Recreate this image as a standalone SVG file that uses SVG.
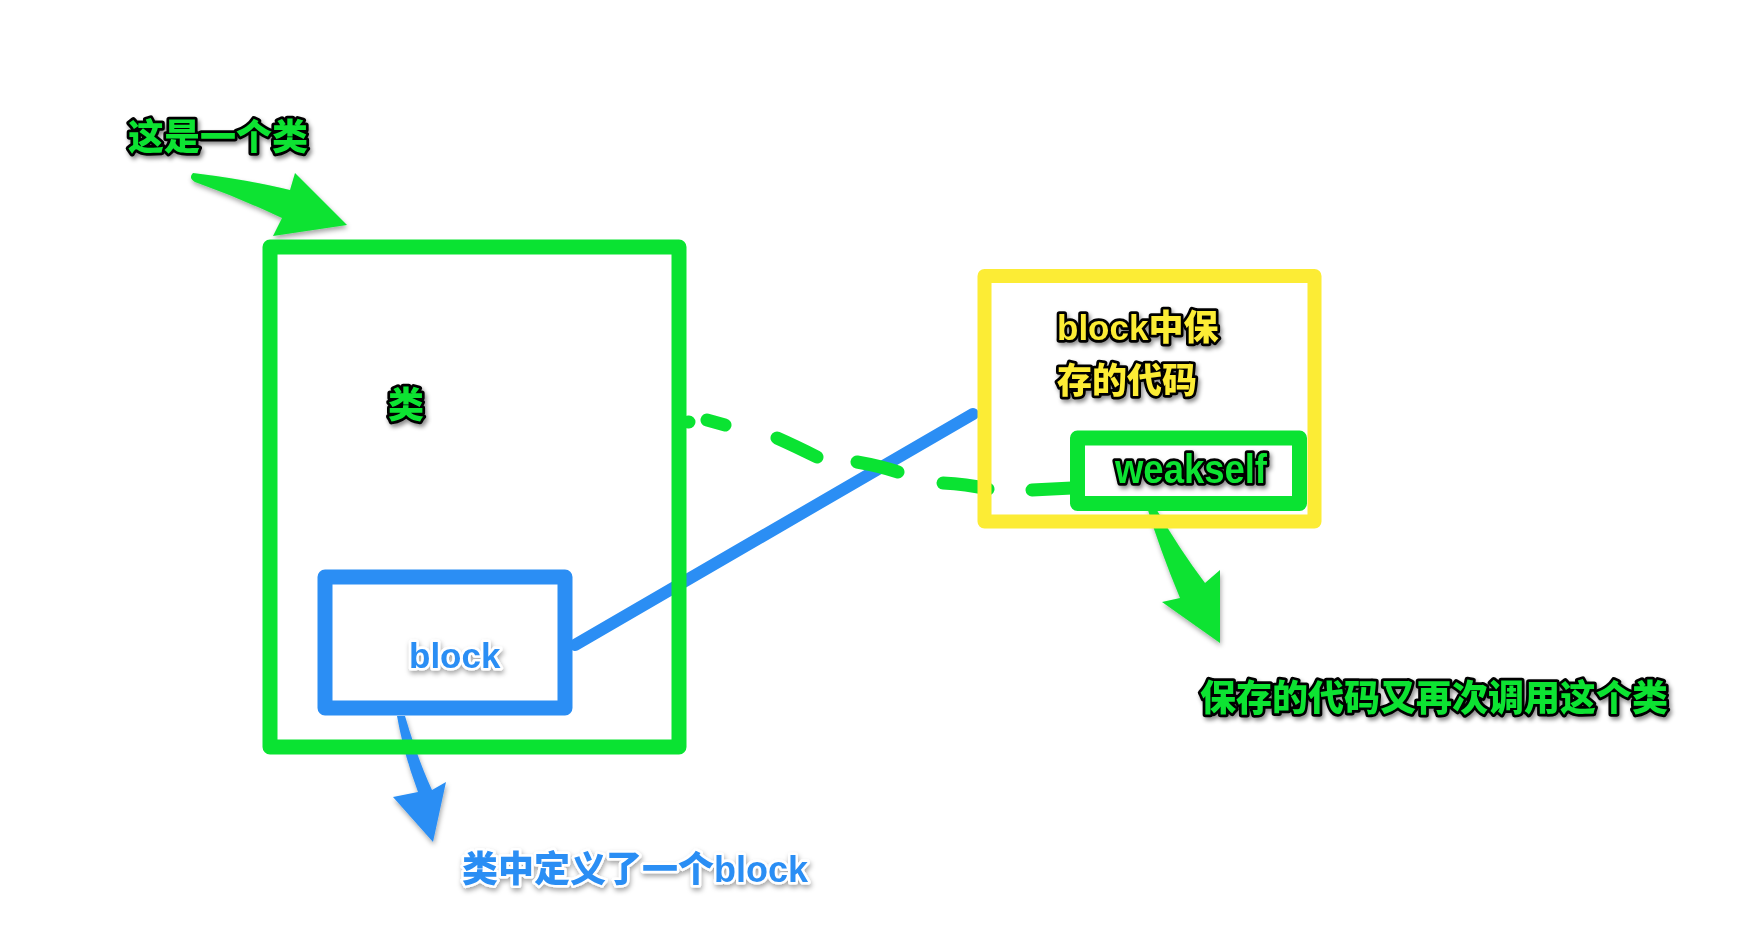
<svg xmlns="http://www.w3.org/2000/svg" width="1753" height="944" viewBox="0 0 1753 944">
  <defs>
    <filter id="shadow" x="-20%" y="-40%" width="140%" height="180%">
      <feDropShadow dx="2" dy="3" stdDeviation="2" flood-color="#000" flood-opacity="0.45"/>
    </filter>
    <filter id="softshadow" x="-20%" y="-40%" width="140%" height="180%">
      <feDropShadow dx="1" dy="3" stdDeviation="2.5" flood-color="#000" flood-opacity="0.35"/>
    </filter>
  </defs>
  <style>
    .t { font-family: "Liberation Sans", "Noto Sans CJK SC", sans-serif; font-weight: 900; paint-order: stroke fill; stroke-linejoin: round; }
    .gt { fill: #0ae332; stroke: #000; stroke-width: 5.5; filter: url(#shadow); }
    .yt { fill: #fcec35; stroke: #000; stroke-width: 5.5; filter: url(#shadow); }
    .bt { fill: #2b8ef4; stroke: #fff; stroke-width: 5; filter: url(#softshadow); }
    .box { fill: none; stroke-linejoin: round; }
    .green { stroke: #0ae332; }
    .blue { stroke: #2b8ef4; }
    .yellow { stroke: #fcec35; }
  </style>
  <rect width="1753" height="944" fill="#fff"/>

  <g id="connectors">
    <path id="blue-link" d="M575,645 L973,414" stroke="#2b8ef4" stroke-width="12" stroke-linecap="round" fill="none"/>
    <path id="green-dashed" d="M688,422 L689,422 M707,420 L725,425 M777,438 Q795,446 817,457 M857,462 Q880,466 898,472 M943,483 Q966,484 988,489 M1032,490 Q1052,489 1072,488" stroke="#0ae332" stroke-width="13" stroke-linecap="round" fill="none"/>
    <path id="arrow-class" d="M193,173 Q250,180 290,190 L295,173 L347,225 L273,236 L282,218 Q240,198 195,182 Q188,178 193,173 Z" fill="#0ae332" filter="url(#softshadow)"/>
    <path id="arrow-block" d="M397,716 L405,716 Q418,760 432,790 L446,782 L433,842 L393,797 L418,792 Q404,755 397,716 Z" fill="#2b8ef4" filter="url(#softshadow)"/>
    <path id="arrow-weakself" d="M1147,507 L1155,507 Q1180,550 1205,583 L1220,570 L1220,643 L1162,602 L1180,598 Q1160,550 1147,507 Z" fill="#0ae332" filter="url(#softshadow)"/>
  </g>

  <g id="class-node">
    <rect class="box green" x="270" y="247" width="409" height="500" stroke-width="15"/>
    <text class="t gt" x="388" y="418" font-size="36">类</text>
  </g>

  <g id="block-node">
    <rect class="box blue" x="325" y="577" width="240" height="131" stroke-width="15"/>
    <text class="t bt" x="409" y="668" font-size="35">block</text>
  </g>

  <g id="saved-code-node">
    <rect class="box yellow" x="984.5" y="276" width="330" height="245.5" stroke-width="14"/>
    <text class="t yt" x="1057" y="340" font-size="35">block中保</text>
    <text class="t yt" x="1057" y="393" font-size="35">存的代码</text>
  </g>

  <g id="weakself-node">
    <rect class="box green" x="1077.5" y="438" width="222" height="65.5" stroke-width="15"/>
    <text class="t gt" x="1115" y="483" font-size="40" textLength="152" lengthAdjust="spacingAndGlyphs">weakself</text>
  </g>

  <g id="label-class">
    <text class="t gt" x="128" y="150" font-size="36">这是一个类</text>
  </g>
  <g id="label-block">
    <text class="t bt" x="462" y="882" font-size="36">类中定义了一个block</text>
  </g>
  <g id="label-recall">
    <text class="t gt" x="1200" y="711" font-size="36">保存的代码又再次调用这个类</text>
  </g>
</svg>
